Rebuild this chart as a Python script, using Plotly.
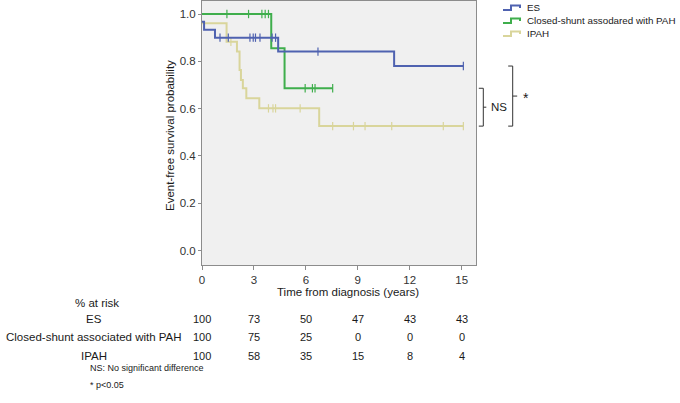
import plotly.graph_objects as go

# ---------------- data ----------------
es_time = [0, 0.12, 0.75, 4.4, 11.1, 15.1]
es_surv = [0.967, 0.933, 0.900, 0.841, 0.780, 0.780]
es_cens_time = [1.04, 1.52, 2.77, 2.96, 3.09, 3.35, 4.05, 4.25, 6.7, 15.1]
es_cens_surv = [0.900, 0.900, 0.900, 0.900, 0.900, 0.900, 0.900, 0.900, 0.841, 0.780]

cs_time = [0, 4.0, 4.77, 7.55]
cs_surv = [1.0, 0.855, 0.686, 0.686]
cs_cens_time = [1.44, 2.69, 3.46, 3.65, 3.84, 5.96, 6.38, 6.53, 7.55]
cs_cens_surv = [1.0, 1.0, 1.0, 1.0, 1.0, 0.686, 0.686, 0.686, 0.686]

ip_time = [0, 1.42, 2.02, 2.17, 2.25, 2.36, 2.56, 3.31, 6.77, 15.1]
ip_surv = [0.961, 0.883, 0.841, 0.763, 0.721, 0.686, 0.644, 0.601, 0.526, 0.526]
ip_cens_time = [1.67, 3.84, 4.1, 4.25, 5.67, 7.55, 8.75, 9.42, 10.96, 13.94, 15.1]
ip_cens_surv = [0.883, 0.601, 0.601, 0.601, 0.601, 0.526, 0.526, 0.526, 0.526, 0.526, 0.526]

legend_names = ["ES", "Closed-shunt assodared with PAH", "IPAH"]
risk_groups = ["ES", "Closed-shunt associated with PAH", "IPAH"]
risk_times = [0, 3, 6, 9, 12, 15]
risk_es = [100, 73, 50, 47, 43, 43]
risk_cs = [100, 75, 25, 0, 0, 0]
risk_ip = [100, 58, 35, 15, 8, 4]

x_ticks = [0, 3, 6, 9, 12, 15]
y_ticks = [0.0, 0.2, 0.4, 0.6, 0.8, 1.0]

# ---------------- styling ----------------
COL_ES = "#4f62b0"
COL_CS = "#3fae4c"
COL_IP = "#d9d59b"
FONT = "Liberation Sans, Arial, sans-serif"
TXT = "#1a1a1a"

W, H = 680, 403
L, R, T, B = 202, 476, 1, 265  # plot area in pixels


def px(xp):
    return (xp - L) / (R - L)


def py(yp):
    return (B - yp) / (B - T)


fig = go.Figure()

series = [
    (es_time, es_surv, es_cens_time, es_cens_surv, COL_ES),
    (cs_time, cs_surv, cs_cens_time, cs_cens_surv, COL_CS),
    (ip_time, ip_surv, ip_cens_time, ip_cens_surv, COL_IP),
]
# draw IPAH first, then green, then blue on top
for t, s, ct, cs_, col in [series[2], series[1], series[0]]:
    fig.add_trace(go.Scatter(x=t, y=s, mode="lines", line=dict(color=col, width=2, shape="hv"),
                             showlegend=False, hoverinfo="skip"))
    fig.add_trace(go.Scatter(x=ct, y=cs_, mode="markers",
                             marker=dict(symbol="line-ns-open", size=6, color=col,
                                         line=dict(color=col, width=1.2)),
                             showlegend=False, hoverinfo="skip"))

fig.update_xaxes(range=[0, 15.83], tickvals=x_ticks, ticktext=[str(v) for v in x_ticks],
                 showgrid=False, zeroline=False, showline=True, linecolor="#8c8c8c", linewidth=1,
                 mirror=True, ticks="outside", ticklen=4, tickcolor="#8c8c8c",
                 tickfont=dict(family=FONT, size=11.5, color="#333333"))
fig.update_yaxes(range=[-0.0613, 1.055], tickvals=y_ticks, ticktext=[f"{v:.1f}" for v in y_ticks],
                 showgrid=False, zeroline=False, showline=True, linecolor="#8c8c8c", linewidth=1,
                 mirror=True, ticks="outside", ticklen=3, tickcolor="#8c8c8c",
                 tickfont=dict(family=FONT, size=11.5, color="#333333"))

annotations = []
shapes = []

# axis titles
annotations.append(dict(text="Event-free survival probability", xref="paper", yref="paper",
                        x=px(170), y=py(136), textangle=-90, showarrow=False,
                        font=dict(family=FONT, size=11.5, color=TXT), xanchor="center", yanchor="middle"))
annotations.append(dict(text="Time from diagnosis (years)", xref="paper", yref="paper",
                        x=px(347.5), y=py(292), showarrow=False,
                        font=dict(family=FONT, size=11.5, color=TXT), xanchor="center", yanchor="middle"))

# custom legend
leg_y = [7.5, 20.5, 33.5]
for name, col, yy in zip(legend_names, [COL_ES, COL_CS, COL_IP], leg_y):
    x0, x1, x2 = px(503), px(511), px(520)
    ylo, yhi, ymid = py(yy + 2.5), py(yy - 2), py(yy + 0.5)
    shapes.append(dict(type="path", xref="paper", yref="paper",
                       path=f"M {x0} {ylo} L {x1} {ylo} L {x1} {yhi} L {x2} {yhi} L {x2} {ymid}",
                       line=dict(color=col, width=2)))
    annotations.append(dict(text=name, xref="paper", yref="paper", x=px(525), y=py(yy),
                            showarrow=False, xanchor="left", yanchor="middle",
                            font=dict(family=FONT, size=9.8, color=TXT)))

# brackets
ns_top, ns_bot = cs_surv[-1], ip_surv[-1]
st_top, st_bot = es_surv[-1], ip_surv[-1]
for xv, ytop, ybot, dash_len, label, lab_x in [
    (483.3, ns_top, ns_bot, 3, "NS", 498.5),
    (512.7, st_top, st_bot, 4.5, "*", 525.5),
]:
    xa, xb = px(xv - 4.5), px(xv)
    shapes.append(dict(type="path", xref="paper", yref="y",
                       path=f"M {xa} {ytop} L {xb} {ytop} L {xb} {ybot} L {xa} {ybot}",
                       line=dict(color="#333333", width=1)))
    ym = (ytop + ybot) / 2
    shapes.append(dict(type="line", xref="paper", yref="y", x0=px(xv), x1=px(xv + dash_len),
                       y0=ym, y1=ym, line=dict(color="#333333", width=1)))
    annotations.append(dict(text=label, xref="paper", yref="y", x=px(lab_x), y=ym,
                            showarrow=False, xanchor="center", yanchor="middle",
                            yshift=(-2 if label == "*" else 0),
                            font=dict(family=FONT, size=(14 if label == "*" else 11.5), color=TXT)))

# risk table
annotations.append(dict(text="% at risk", xref="paper", yref="paper", x=px(96.5), y=py(302.5),
                        showarrow=False, xanchor="center", yanchor="middle",
                        font=dict(family=FONT, size=11.5, color=TXT)))
row_y = [319, 337.3, 355.7]
for grp, vals, yy in zip(risk_groups, [risk_es, risk_cs, risk_ip], row_y):
    annotations.append(dict(text=grp, xref="paper", yref="paper", x=px(94), y=py(yy),
                            showarrow=False, xanchor="center", yanchor="middle",
                            font=dict(family=FONT, size=11.5, color=TXT)))
    for t, v in zip(risk_times, vals):
        annotations.append(dict(text=str(v), xref="x", yref="paper", x=t, y=py(yy),
                                showarrow=False, xanchor="center", yanchor="middle",
                                font=dict(family=FONT, size=11, color=TXT)))

# footnotes
annotations.append(dict(text="NS: No significant difference", xref="paper", yref="paper",
                        x=px(88), y=py(368), showarrow=False, xanchor="left", yanchor="middle",
                        font=dict(family=FONT, size=9, color=TXT)))
annotations.append(dict(text="* p<0.05", xref="paper", yref="paper",
                        x=px(88), y=py(385), showarrow=False, xanchor="left", yanchor="middle",
                        font=dict(family=FONT, size=9, color=TXT)))

fig.update_layout(
    width=W, height=H,
    margin=dict(l=L, r=W - R, t=T, b=H - B, pad=0),
    paper_bgcolor="white", plot_bgcolor="#f0f0f0",
    showlegend=False,
    annotations=annotations, shapes=shapes,
    font=dict(family=FONT, size=11, color=TXT),
)

fig.write_html(
    "out.html",
    config={"displayModeBar": False, "staticPlot": True},
    post_script=(
        "document.documentElement.style.overflow='hidden';"
        "document.body.style.margin='0';document.body.style.overflow='hidden';"
    ),
)
